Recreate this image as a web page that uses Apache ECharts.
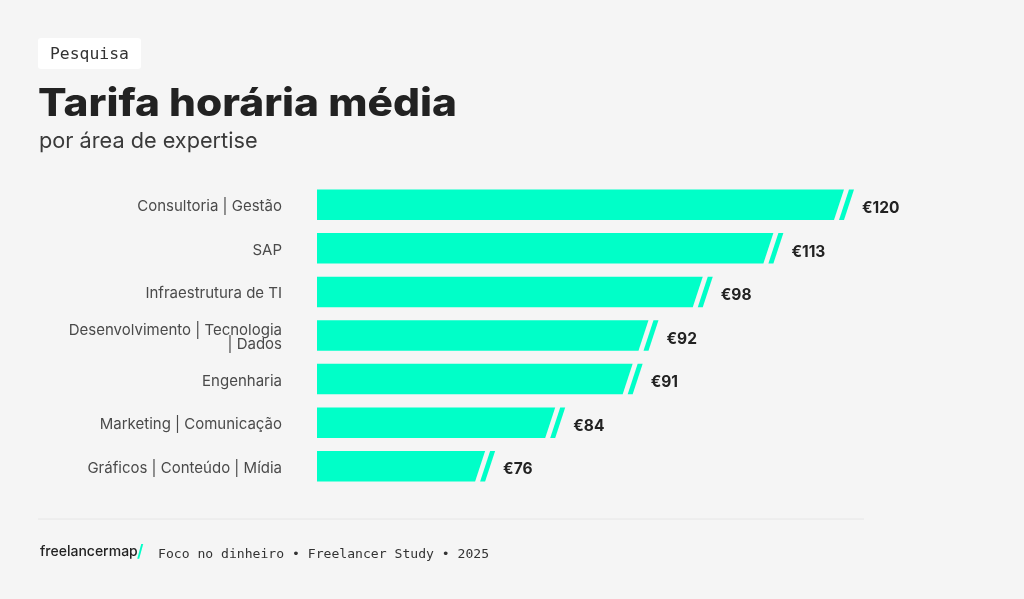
<!DOCTYPE html>
<html>
<head>
<meta charset="utf-8">
<script src="https://cdn.jsdelivr.net/npm/echarts@6/dist/echarts.min.js"></script>
<style>
html, body { margin: 0; padding: 0; background: #f5f5f5; }
#chart { width: 1024px; height: 599px; }
</style>
</head>
<body>
<div id="chart"></div>
<script>
var categories = ['Consultoria | Gestão', 'SAP', 'Infraestrutura de TI', 'Desenvolvimento | Tecnologia\n| Dados', 'Engenharia', 'Marketing | Comunicação', 'Gráficos | Conteúdo | Mídia'];
// tarifa impressa ao lado de cada barra
var rates = [120, 113, 98, 92, 91, 84, 76];
// comprimento desenhado no original (% da maior barra), nao e proporcional a tarifa
var barLengths = [100, 86.6, 73.2, 62.9, 59.9, 45.2, 31.9];

var tealColor = '#00ffc8';
var darkColor = '#222222';
var textColor = '#4a4a4a';
var monoFont = '"DejaVu Sans Mono", monospace';
var sansFont = 'Inter, "Noto Sans", sans-serif';

var box = echarts.init(document.getElementById('chart'));

function renderBar(params, api) {
    var end = api.coord([api.value(0), api.value(1)]);
    var start = api.coord([0, api.value(1)]);
    var h = api.size([0, 1])[1] * 0.7;
    var top = end[1] - h / 2;
    var bottom = end[1] + h / 2;
    var slant = 10;
    return {
        type: 'group',
        children: [
            {
                type: 'polygon',
                shape: { points: [[start[0], top], [end[0], top], [end[0] - slant, bottom], [start[0], bottom]] },
                style: { fill: tealColor }
            },
            {
                type: 'polygon',
                shape: { points: [[end[0] + 5, top], [end[0] + 10, top], [end[0], bottom], [end[0] - 5, bottom]] },
                style: { fill: tealColor }
            },
            // rotulo da categoria, 2px abaixo do centro da barra
            {
                type: 'text',
                x: start[0] - 35,
                y: end[1] + 2,
                style: {
                    text: categories[params.dataIndex],
                    fill: textColor,
                    font: '15px ' + sansFont,
                    lineHeight: 14.5,
                    textAlign: 'right',
                    textVerticalAlign: 'middle'
                }
            },
            {
                type: 'text',
                x: end[0] + 18,
                y: end[1] + 3.5,
                style: {
                    text: '€' + rates[params.dataIndex],
                    fill: darkColor,
                    font: '700 15.5px ' + sansFont,
                    textAlign: 'left',
                    textVerticalAlign: 'middle'
                }
            }
        ]
    };
}

var option = {
    backgroundColor: '#f5f5f5',
    animation: false,
    grid: { left: 317, top: 183, width: 527, height: 305 },
    xAxis: { type: 'value', min: 0, max: 100, show: false },
    yAxis: {
        type: 'category',
        inverse: true,
        data: categories,
        axisLine: { show: false },
        axisTick: { show: false },
        axisLabel: { show: false }
    },
    series: [
        {
            type: 'custom',
            renderItem: renderBar,
            encode: { x: 0, y: 1 },
            data: barLengths.map(function (v, i) { return [v, i]; })
        }
    ],
    graphic: [
        { type: 'rect', shape: { x: 38, y: 38, width: 103, height: 31, r: 3 }, style: { fill: '#ffffff' } },
        { type: 'text', x: 50, y: 55, style: { text: 'Pesquisa', fill: '#333333', font: '16.4px ' + monoFont, textVerticalAlign: 'middle' } },
        { type: 'text', x: 38, y: 105, scaleX: 1.115, style: { text: 'Tarifa horária média', fill: darkColor, font: '800 38px ' + sansFont, textVerticalAlign: 'middle' } },
        { type: 'text', x: 39, y: 141, style: { text: 'por área de expertise', fill: '#3a3a3a', font: '21.7px ' + sansFont, textVerticalAlign: 'middle' } },
        { type: 'line', shape: { x1: 38, y1: 519, x2: 864, y2: 519 }, style: { stroke: '#e6e6e6', lineWidth: 1 } },
        { type: 'text', x: 40, y: 552, style: { text: 'freelancermap', fill: darkColor, font: '500 14px ' + sansFont, textVerticalAlign: 'middle' } },
        { type: 'text', x: 137, y: 552, style: { text: '/', fill: tealColor, font: '600 17px ' + sansFont, textVerticalAlign: 'middle' } },
        { type: 'text', x: 158, y: 555, style: { text: 'Foco no dinheiro • Freelancer Study • 2025', fill: '#333333', font: '13.1px ' + monoFont, textVerticalAlign: 'middle' } }
    ]
};
box.setOption(option);
</script>
</body>
</html>
